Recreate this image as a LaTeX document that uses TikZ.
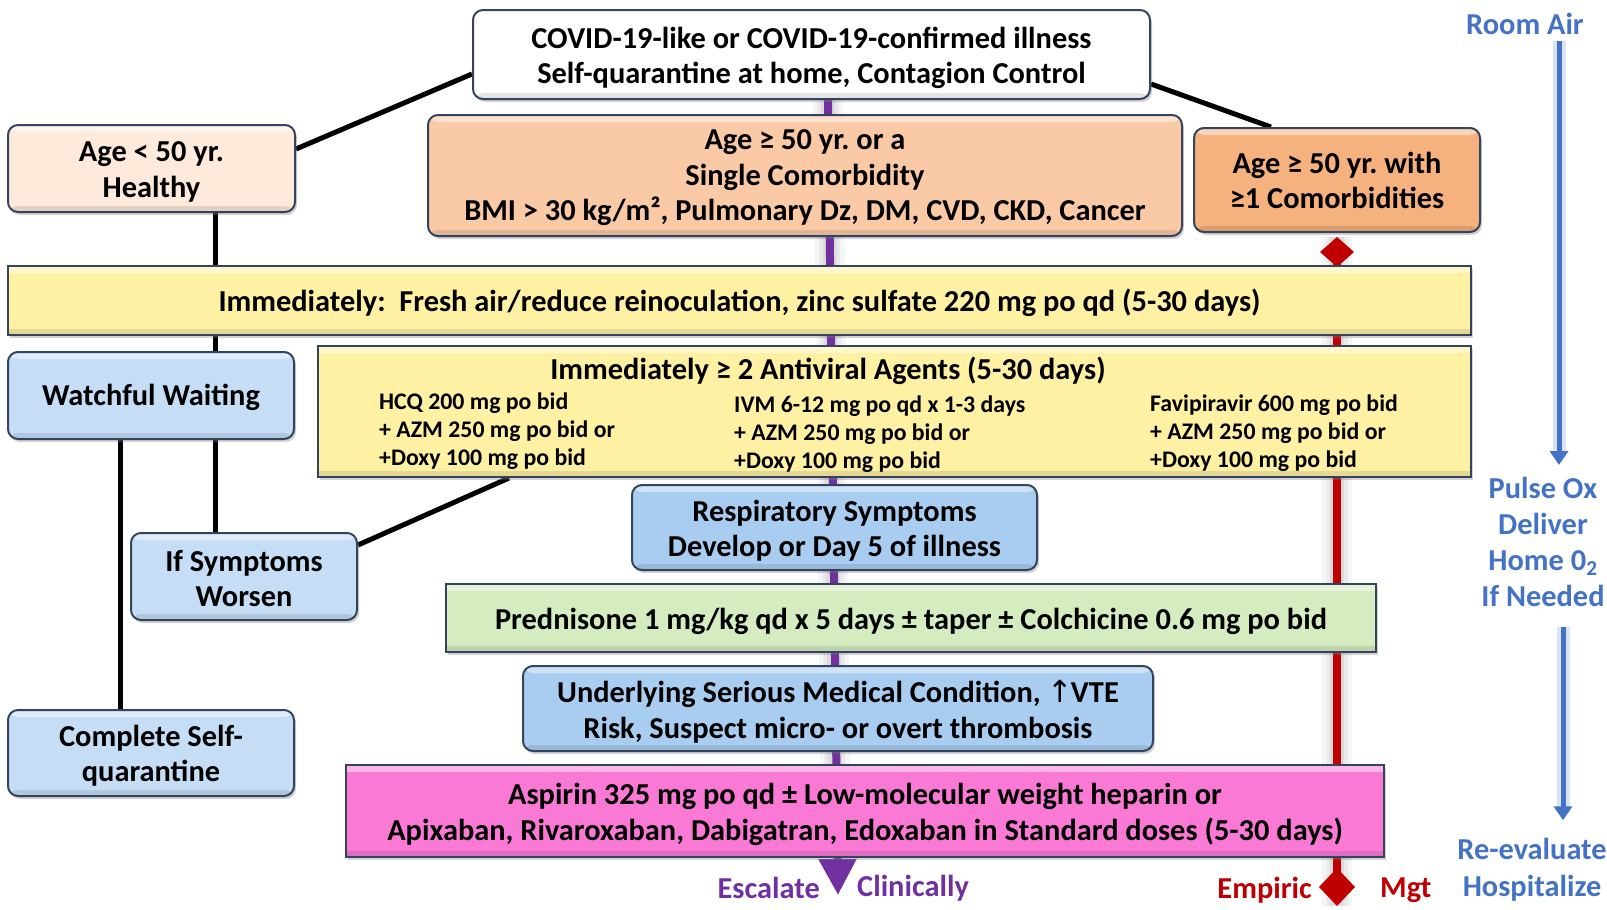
\documentclass[tikz,border=0pt]{standalone}
\usepackage{fontspec}
\setmainfont{Carlito}
\newfontfamily\symfnt{DejaVu Sans}
\usetikzlibrary{calc,arrows.meta,shadows}
\pgfdeclarelayer{bg}
\pgfsetlayers{bg,main}
\frenchspacing
\definecolor{bord}{HTML}{34445F}
\definecolor{cpeachA}{HTML}{FDEADA}
\definecolor{cpeachB}{HTML}{FAC9A6}
\definecolor{cpeachC}{HTML}{F5B17E}
\definecolor{cyel}{HTML}{FFF1A3}
\definecolor{cblueA}{HTML}{C5DEF5}
\definecolor{cblueB}{HTML}{A9CDF0}
\definecolor{cgreen}{HTML}{D4ECBF}
\definecolor{cpink}{HTML}{F979D4}
\definecolor{cpurple}{HTML}{7030A0}
\definecolor{cred}{HTML}{C00000}
\definecolor{cblue}{HTML}{4472C4}
\newcommand\ftA{\fontsize{30.4}{35.5}\selectfont\bfseries}
\newcommand\ftB{\fontsize{23.8}{28}\selectfont\bfseries}
\tikzset{
  box/.style={draw=bord, line width=2pt, rounded corners=10pt, inner sep=0pt,
    drop shadow={shadow xshift=2pt, shadow yshift=-3pt, opacity=0.35},
    path picture={
      \fill[white, opacity=0.45] (path picture bounding box.north west)
        rectangle ([yshift=-7pt]path picture bounding box.north east);
      \fill[black, opacity=0.10] ([yshift=6pt]path picture bounding box.south west)
        rectangle (path picture bounding box.south east);
    }},
  bar/.style={box, rounded corners=0pt},
  txt/.style={inner sep=0pt, font=\ftA, align=center},
  small/.style={inner sep=0pt, font=\ftB, align=left, anchor=west},
  conn/.style={line width=5pt, black},
  glowA/.style={line width=30pt, gray, opacity=0.08},
  glowB/.style={line width=21pt, gray, opacity=0.10},
  glowC/.style={line width=14pt, gray, opacity=0.12},
}
\begin{document}
\begin{tikzpicture}[x=1pt,y=-1pt]
\useasboundingbox (0,0) rectangle (1607,910);

% boxes
\node[box, fill=white, minimum width=677pt, minimum height=89pt] (covid) at (811.5,54.5) {};
\node[txt] (covidT) at ($(covid)+(0,3.5)$)
  {COVID-19-like or COVID-19-confirmed illness\\Self-quarantine at home, Contagion Control};
\node[box, fill=cpeachA, minimum width=287pt, minimum height=87pt] (young) at (151.5,168.5) {};
\node[txt] (youngT) at ($(young)+(0,3.5)$) {Age < 50 yr.\\Healthy};
\node[box, fill=cpeachB, minimum width=754pt, minimum height=121pt] (single) at (805,175.5) {};
\node[txt] (singleT) at ($(single)+(0,2.5)$)
  {Age ≥ 50 yr. or a\\Single Comorbidity\\BMI > 30 kg/m², Pulmonary Dz, DM, CVD, CKD, Cancer};
\node[box, fill=cpeachC, minimum width=286pt, minimum height=104pt] (multi) at (1337,180) {};
\node[txt] (multiT) at ($(multi)+(0,0.5)$) {Age ≥ 50 yr. with\\≥1 Comorbidities};
\node[bar, fill=cyel, minimum width=1463pt, minimum height=69pt] (bar1) at (739.5,300.5) {};
\node[txt] (bar1T) at ($(bar1)+(0,2)$)
  {Immediately:\ \ Fresh air/reduce reinoculation, zinc sulfate 220 mg po qd (5-30 days)};
\node[box, fill=cblueA, minimum width=286pt, minimum height=87pt] (watch) at (151,395.5) {};
\node[txt] (watchT) at ($(watch)+(0,2)$) {Watchful Waiting};
\node[bar, fill=cyel, minimum width=1153pt, minimum height=131pt] (antiv) at (894.5,411.5) {};
\node[txt] (antivT) at (828,371) {Immediately ≥ 2 Antiviral Agents (5-30 days)};
\node[small] (colA) at (379,431) {HCQ 200 mg po bid\\+ AZM 250 mg po bid or\\+Doxy 100 mg po bid};
\node[small] (colB) at (734,434) {IVM 6-12 mg po qd x 1-3 days\\+ AZM 250 mg po bid or\\+Doxy 100 mg po bid};
\node[small] (colC) at (1150,433) {Favipiravir 600 mg po bid\\+ AZM 250 mg po bid or\\+Doxy 100 mg po bid};
\node[box, fill=cblueB, minimum width=405pt, minimum height=85pt] (resp) at (834.5,527.5) {};
\node[txt] (respT) at ($(resp)+(0,3)$) {Respiratory Symptoms\\Develop or Day 5 of illness};
\node[box, fill=cblueA, minimum width=226pt, minimum height=87pt] (worsen) at (244,576.5) {};
\node[txt] (worsenT) at ($(worsen)+(0,2)$) {If Symptoms\\Worsen};
\node[bar, fill=cgreen, minimum width=930pt, minimum height=68pt] (pred) at (911,618) {};
\node[txt] (predT) at ($(pred)+(0,3)$)
  {Prednisone 1 mg/kg qd x 5 days ± taper ± Colchicine 0.6 mg po bid};
\node[box, fill=cblueB, minimum width=630pt, minimum height=85pt] (under) at (838,708.5) {};
\node[txt] (underT) at ($(under)+(0,3)$)
  {Underlying Serious Medical Condition, {\symfnt\mdseries ↑}\kern-2ptVTE\\Risk, Suspect micro- or overt thrombosis};
\node[box, fill=cblueA, minimum width=286pt, minimum height=86pt] (complete) at (151,753) {};
\node[txt] (completeT) at ($(complete)+(0,2.5)$) {Complete Self-\\quarantine};
\node[bar, fill=cpink, minimum width=1038pt, minimum height=92pt] (aspirin) at (865,811) {};
\node[txt] (aspirinT) at ($(aspirin)+(0,3.5)$)
  {Aspirin 325 mg po qd ± Low-molecular weight heparin or\\Apixaban, Rivaroxaban, Dabigatran, Edoxaban in Standard doses (5-30 days)};

% bottom labels
\node[txt, text=cpurple, anchor=east] (escA) at (820,888) {Escalate};
\node[txt, text=cpurple, anchor=west] (escB) at (857,888) {Clinically};
\node[txt, text=cred, anchor=east] (empA) at (1312,890) {Empiric};
\node[txt, text=cred, anchor=west] (empB) at (1380,890) {Mgt};
\coordinate (esctip) at (838,895);
\coordinate (redend) at (1337,906);

% right column
\node[txt, text=cblue] (roomair) at (1525,24) {Room Air};
\node[txt, text=cblue, font=\fontsize{30.4}{36}\selectfont\bfseries] (pulse) at (1543,542)
  {Pulse Ox\\Deliver\\Home 0\textsubscript{2}\\If Needed};
\node[txt, text=cblue, font=\fontsize{30.4}{37}\selectfont\bfseries] (reeval) at (1532,870)
  {Re-evaluate\\Hospitalize};

\begin{pgfonlayer}{bg}
  % purple spine
  \foreach \g in {glowA,glowB,glowC}
    \draw[\g] ($(covid.south)+(16.5,0)$) -- ($(aspirin.south)+(-29,0)$);
  \draw[line width=8pt, cpurple, -{Triangle[length=36pt,width=36pt]}]
    ($(covid.south)+(16.5,0)$) -- (esctip);
  % red spine
  \foreach \g in {glowA,glowB,glowC}
    \draw[\g] ($(multi.south)+(0,4)$) -- (redend);
  \draw[line width=8pt, cred, {Diamond[length=30pt,width=34pt]}-{Diamond[length=38pt,width=36pt]}]
    ($(multi.south)+(0,4)$) -- (redend);
  % black connectors
  \draw[conn] ($(covid.west)+(0,19.5)$) -- ($(young.east)+(0,-19.5)$);
  \draw[conn] ($(covid.east)+(0,29.5)$) -- ($(multi.north)+(-66,0)$);
  \draw[conn] ($(young.south)+(63.5,0)$) -- ($(watch.north)+(64,0)$);
  \draw[conn] ($(watch.south)+(64,0)$) -- ($(worsen.north)+(-29,0)$);
  \draw[conn] ($(watch.south)+(-31,0)$) -- ($(complete.north)+(-31,0)$);
  \draw[conn] ($(worsen.east)+(0,-31.5)$) -- ($(antiv.south)+(-385.5,0)$);
  % blue arrow halos
  \draw[line width=13pt, cblue, opacity=0.2] ($(roomair.south)+(34,6)$) -- ($(pulse.north)+(16,-20)$);
  \draw[line width=13pt, cblue, opacity=0.2] ($(pulse.south)+(20,20)$) -- ($(reeval.north)+(31,-25)$);
\end{pgfonlayer}
\draw[line width=5pt, cblue, -{Triangle[length=14pt,width=18pt]}]
  ($(roomair.south)+(34,6)$) -- ($(pulse.north)+(16,-12)$);
\draw[line width=5pt, cblue, -{Triangle[length=14pt,width=18pt]}]
  ($(pulse.south)+(20,20)$) -- ($(reeval.north)+(31,-18)$);
\end{tikzpicture}
\end{document}
